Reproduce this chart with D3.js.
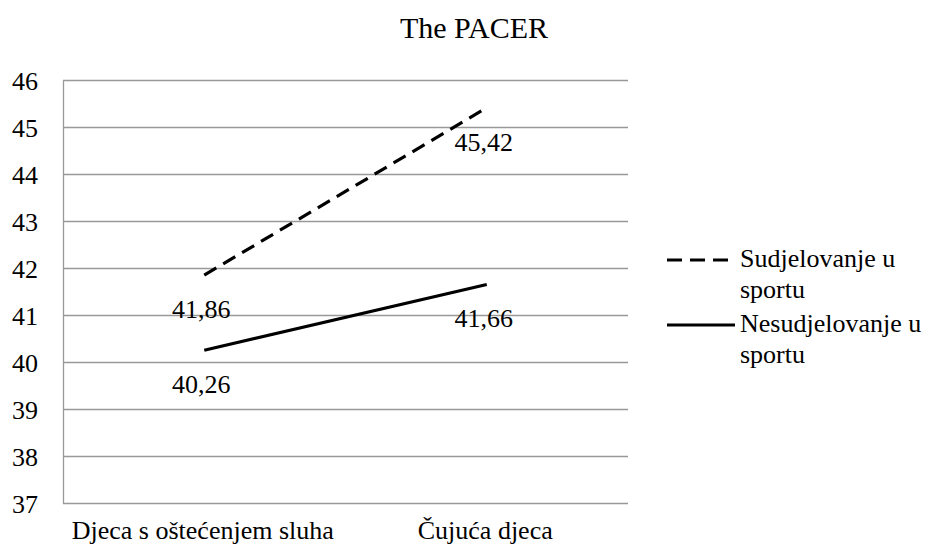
<!DOCTYPE html>
<html>
<head>
<meta charset="utf-8">
<script src="https://cdn.jsdelivr.net/npm/d3@7"></script>
<style>
  body { margin: 0; background: #fff; }
</style>
</head>
<body>
<div id="chart"></div>
<script>
// data
var categories = ["Djeca s oštećenjem sluha", "Čujuća djeca"];
var sudjelovanje = [41.86, 45.42];
var nesudjelovanje = [40.26, 41.66];
var yTicks = [37, 38, 39, 40, 41, 42, 43, 44, 45, 46];

var FONT = "'Liberation Serif', 'Times New Roman', serif";
var W = 931, H = 549;
var margin = {top: 80.5, right: 303, bottom: 45.5, left: 63},
    width = W - margin.left - margin.right,
    height = H - margin.top - margin.bottom;

var svg = d3.select("#chart").append("svg")
    .attr("width", W)
    .attr("height", H)
    .style("font-family", FONT);

var g = svg.append("g")
    .attr("transform", "translate(" + margin.left + "," + margin.top + ")");

var x = d3.scalePoint()
    .domain(categories)
    .range([0, width])
    .padding(0.5);
var y = d3.scaleLinear()
    .domain([37, 46])
    .range([height, 0]);

// title
svg.append("text")
    .attr("x", 474)
    .attr("y", 38)
    .attr("text-anchor", "middle")
    .style("font-family", FONT)
    .style("font-size", "30px")
    .text("The PACER");

// gridlines
g.selectAll(".grid")
    .data(yTicks)
    .enter().append("line")
    .attr("x1", 0)
    .attr("x2", width)
    .attr("y1", function(d) { return y(d); })
    .attr("y2", function(d) { return y(d); })
    .attr("stroke", "#999")
    .attr("stroke-width", 1.3);

// y axis
var yAxis = g.append("g")
    .call(d3.axisLeft(y).tickValues(yTicks).tickSize(0).tickPadding(25));
yAxis.select(".domain").attr("stroke", "#999").attr("stroke-width", 1.3);
yAxis.selectAll("text")
    .style("font-family", FONT)
    .style("font-size", "26px")
    .attr("fill", "#000")
    .attr("dy", "0.34em");

// x axis
var xAxis = g.append("g")
    .attr("transform", "translate(0," + height + ")")
    .call(d3.axisBottom(x).tickSize(0).tickPadding(17));
xAxis.select(".domain").remove();
xAxis.selectAll("text")
    .style("font-family", FONT)
    .style("font-size", "26px")
    .attr("fill", "#000")
    .attr("dx", "-2")
    .attr("dy", "0.71em");

var line = d3.line()
    .x(function(d, i) { return x(categories[i]); })
    .y(function(d) { return y(d); });

g.append("path")
    .datum(sudjelovanje)
    .attr("fill", "none")
    .attr("stroke", "#000")
    .attr("stroke-width", 3.2)
    .attr("stroke-dasharray", "14,8")
    .attr("d", line);

g.append("path")
    .datum(nesudjelovanje)
    .attr("fill", "none")
    .attr("stroke", "#000")
    .attr("stroke-width", 3.2)
    .attr("d", line);

// value labels, below each point
function fmt(v) { return v.toFixed(2).replace(".", ","); }
[sudjelovanje, nesudjelovanje].forEach(function(s) {
    g.selectAll(null)
        .data(s)
        .enter().append("text")
        .attr("x", function(d, i) { return x(categories[i]) - 3; })
        .attr("y", function(d) { return y(d) + 43; })
        .attr("text-anchor", "middle")
        .style("font-family", FONT)
        .style("font-size", "26px")
        .text(fmt);
});

// legend
var legend = svg.append("g").attr("transform", "translate(667,260)");
var items = [
    {dash: "15,8", lines: ["Sudjelovanje u", "sportu"]},
    {dash: null, lines: ["Nesudjelovanje u", "sportu"]}
];
items.forEach(function(it, i) {
    var ly = i * 65;
    legend.append("line")
        .attr("x1", 0).attr("x2", 68)
        .attr("y1", ly).attr("y2", ly)
        .attr("stroke", "#000")
        .attr("stroke-width", 3.2)
        .attr("stroke-dasharray", it.dash);
    var t = legend.append("text")
        .attr("x", 73)
        .attr("y", ly + 7)
        .style("font-family", FONT)
        .style("font-size", "26px");
    it.lines.forEach(function(l, j) {
        t.append("tspan").attr("x", 73).attr("dy", j ? 31 : 0).text(l);
    });
});
</script>
</body>
</html>
